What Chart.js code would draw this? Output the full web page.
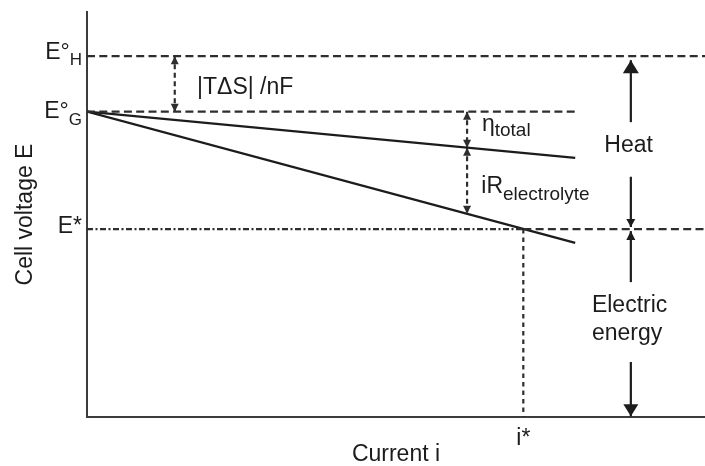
<!DOCTYPE html>
<html><head><meta charset="utf-8">
<script src="https://cdn.jsdelivr.net/npm/chart.js@4/dist/chart.umd.min.js"></script>
<style>html,body{margin:0;padding:0;background:#fff}#wrap{width:705px;height:466px}</style>
</head><body><div id="wrap"><canvas id="c" width="705" height="466"></canvas></div>
<script>
// ---- data (schematic values) ----
const levelNames = ['E°H', 'E°G', 'E*'];
const levelValues = [8.91, 7.54, 4.64];
const currentMin = 0;
const currentMax = 10;
const voltageMin = 0;
const voltageMax = 10;
const currentEnd = 7.90;
const lineNames = ['ηtotal', 'iRelectrolyte'];
const lineEndValues = [6.40, 4.30];
const iStar = 7.06;
const xTickValues = [iStar];
const xTickLabels = ['i*'];
const gapArrowX = [1.42, 6.15];
const gapArrowLevels = [6.65, 5.02];
const energyArrowX = 8.80;
const heatArrowFrom = [7.28, 5.93];
const heatArrowTo = [8.81, 4.69];
const electricArrowFrom = [3.33, 1.36];
const electricArrowTo = [4.59, 0.02];

const FAM = '"Liberation Sans", Arial, Helvetica, sans-serif';
const INK = '#1c1c1c';
const DASH = [8, 4.3];

// ---- datasets ----
function seg(label, pts, color, width, dash, arrow) {
  return {label, data: pts, showLine: true, borderColor: color, backgroundColor: color,
    borderWidth: width, borderDash: dash || [], pointRadius: 0, pointHoverRadius: 0,
    tension: 0, fill: false, arrow: arrow || null};
}
const EH = levelValues[0], EG = levelValues[1], ES = levelValues[2];
const datasets = [
  seg(levelNames[0], [{x: currentMin, y: EH}, {x: currentMax, y: EH}], '#2e2e2e', 2.2, DASH),
  seg(levelNames[1], [{x: currentMin, y: EG}, {x: currentEnd, y: EG}], '#2e2e2e', 2.2, DASH),
  seg(levelNames[2], [{x: currentMin, y: ES}, {x: iStar, y: ES}], '#2e2e2e', 2.2, [6, 2.5, 2, 2.5]),
  seg(levelNames[2] + ' (right)', [{x: iStar, y: ES}, {x: currentMax, y: ES}], '#2e2e2e', 2.2, DASH),
  seg(lineNames[0], [{x: currentMin, y: EG}, {x: currentEnd, y: lineEndValues[0]}], INK, 2.2),
  seg(lineNames[1], [{x: currentMin, y: EG}, {x: currentEnd, y: lineEndValues[1]}], INK, 2.2),
  seg('i*', [{x: iStar, y: ES}, {x: iStar, y: voltageMin}], '#2e2e2e', 2.2, [4.5, 4]),
  seg('|TΔS|/nF', [{x: gapArrowX[0], y: EG}, {x: gapArrowX[0], y: EH}], '#2e2e2e', 2.2, [5, 3.5],
      {ends: ['start', 'end'], size: [8, 8]}),
  seg('η arrow', [{x: gapArrowX[1], y: EG}, {x: gapArrowX[1], y: gapArrowLevels[0]}], '#2e2e2e', 2.2, [5, 3.5],
      {ends: ['start', 'end'], size: [8, 8]}),
  seg('iR arrow', [{x: gapArrowX[1], y: gapArrowLevels[0]}, {x: gapArrowX[1], y: gapArrowLevels[1]}], '#2e2e2e', 2.2, [5, 3.5],
      {ends: ['start', 'end'], size: [8, 8]}),
  seg('Heat up', [{x: energyArrowX, y: heatArrowFrom[0]}, {x: energyArrowX, y: heatArrowTo[0]}], INK, 2.2, null,
      {ends: ['end'], size: [16, 13]}),
  seg('Heat down', [{x: energyArrowX, y: heatArrowFrom[1]}, {x: energyArrowX, y: heatArrowTo[1]}], INK, 2.2, null,
      {ends: ['end'], size: [9, 8]}),
  seg('Electric up', [{x: energyArrowX, y: electricArrowFrom[0]}, {x: energyArrowX, y: electricArrowTo[0]}], INK, 2.2, null,
      {ends: ['end'], size: [9, 9]}),
  seg('Electric down', [{x: energyArrowX, y: electricArrowFrom[1]}, {x: energyArrowX, y: electricArrowTo[1]}], INK, 2.2, null,
      {ends: ['end'], size: [15, 12]})
];

// ---- text labels ----
const axisLabels = [
  {parts: [['E°', 23, 0], ['H', 17, 6]], y: 8.83},
  {parts: [['E°', 23, 0], ['G', 17, 6.5]], y: 7.375},
  {parts: [['E*', 23, 0]], y: 4.536}
];
const plotLabels = [
  {parts: [['|TΔS| /nF', 23, 0]], x: 1.78, y: 7.98},
  {parts: [['η', 23, 0], ['total', 19, 5]], x: 6.39, y: 7.06},
  {parts: [['iR', 23, 0], ['electrolyte', 19, 7]], x: 6.38, y: 5.53},
  {parts: [['Heat', 23, 0]], x: 8.37, y: 6.54},
  {parts: [['Electric', 23, 0]], x: 8.17, y: 2.60},
  {parts: [['energy', 23, 0]], x: 8.17, y: 1.90}
];

function drawParts(ctx, parts, x, y, align) {
  let total = 0;
  const w = parts.map(p => { ctx.font = p[1] + 'px ' + FAM; const m = ctx.measureText(p[0]).width; total += m; return m; });
  let cx = align === 'right' ? x - total : x;
  parts.forEach((p, i) => { ctx.font = p[1] + 'px ' + FAM; ctx.fillText(p[0], cx, y + p[2]); cx += w[i]; });
}

const textPlugin = {
  id: 'texts',
  afterDraw(chart) {
    const ctx = chart.ctx, xs = chart.scales.x, ys = chart.scales.y;
    ctx.save();
    ctx.fillStyle = INK; ctx.textAlign = 'left'; ctx.textBaseline = 'alphabetic';
    axisLabels.forEach(l => drawParts(ctx, l.parts, chart.chartArea.left - 5, ys.getPixelForValue(l.y), 'right'));
    plotLabels.forEach(l => drawParts(ctx, l.parts, xs.getPixelForValue(l.x), ys.getPixelForValue(l.y), 'left'));
    ctx.restore();
  }
};

const arrowPlugin = {
  id: 'arrows',
  afterDatasetsDraw(chart) {
    const ctx = chart.ctx;
    chart.data.datasets.forEach((ds, i) => {
      if (!ds.arrow) return;
      const pts = chart.getDatasetMeta(i).data;
      const a = pts[0], b = pts[pts.length - 1];
      ds.arrow.ends.forEach(end => {
        const tip = end === 'end' ? b : a, from = end === 'end' ? a : b;
        const ang = Math.atan2(tip.y - from.y, tip.x - from.x);
        const [w, l] = ds.arrow.size;
        ctx.save();
        ctx.translate(tip.x, tip.y); ctx.rotate(ang);
        ctx.beginPath(); ctx.moveTo(0, 0); ctx.lineTo(-l, w / 2); ctx.lineTo(-l, -w / 2); ctx.closePath();
        ctx.fillStyle = ds.borderColor; ctx.fill();
        ctx.restore();
      });
    });
  }
};

new Chart(document.getElementById('c'), {
  type: 'scatter',
  data: {datasets},
  options: {
    responsive: false, animation: false, devicePixelRatio: 1,
    layout: {padding: {top: 12, right: 0, left: 0, bottom: 0}},
    plugins: {legend: {display: false}, tooltip: {enabled: false}},
    scales: {
      x: {
        type: 'linear', min: currentMin, max: currentMax,
        grid: {display: false, drawTicks: false},
        border: {display: true, color: '#3c3c3c', width: 2},
        ticks: {display: true, autoSkip: false, maxRotation: 0, padding: 8, color: INK,
          font: {family: FAM, size: 23},
          callback: (v, i) => xTickLabels[i]},
        afterBuildTicks: s => { s.ticks = xTickValues.map(v => ({value: v})); },
        afterFit: s => { s.height = 49; },
        title: {display: true, text: 'Current i', color: INK, font: {family: FAM, size: 23, lineHeight: 1}, padding: 0}
      },
      y: {
        type: 'linear', min: voltageMin, max: voltageMax,
        grid: {display: false, drawTicks: false},
        border: {display: true, color: '#3c3c3c', width: 2},
        ticks: {display: false},
        afterFit: s => { s.width = 87; },
        title: {display: true, text: 'Cell voltage E', color: INK, font: {family: FAM, size: 23, lineHeight: 1.2}, padding: {top: 12, bottom: 0}}
      }
    }
  },
  plugins: [arrowPlugin, textPlugin]
});
</script>
</body></html>
